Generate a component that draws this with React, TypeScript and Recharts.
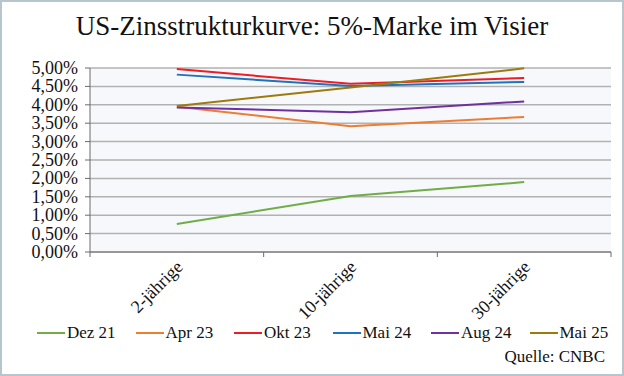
import { LineChart, Line, XAxis, YAxis, CartesianGrid } from "recharts"

const categories = ["2-jährige", "10-jährige", "30-jährige"]
const dez21 = [0.76, 1.52, 1.9]
const apr23 = [3.95, 3.42, 3.67]
const okt23 = [4.97, 4.57, 4.73]
const mai24 = [4.82, 4.51, 4.62]
const aug24 = [3.93, 3.8, 4.09]
const mai25 = [3.97, 4.47, 4.99]
const yTicks = [0, 0.5, 1, 1.5, 2, 2.5, 3, 3.5, 4, 4.5, 5]

const series = [
  { key: "dez21", name: "Dez 21", values: dez21, color: "#70ad47" },
  { key: "apr23", name: "Apr 23", values: apr23, color: "#ed7d31" },
  { key: "okt23", name: "Okt 23", values: okt23, color: "#ee1c25" },
  { key: "mai24", name: "Mai 24", values: mai24, color: "#1f72bd" },
  { key: "aug24", name: "Aug 24", values: aug24, color: "#7030a0" },
  { key: "mai25", name: "Mai 25", values: mai25, color: "#9c7b0c" },
]

const data = categories.map((c, i) => {
  const row: Record<string, string | number> = { cat: c }
  series.forEach((s) => (row[s.key] = s.values[i]))
  return row
})

const FONT = "Liberation Serif"
const W = 624
const H = 376
const LEFT = 90
const RIGHT = 13
const band = (W - LEFT - RIGHT) / categories.length

const fmt = (v: number) => v.toFixed(2).replace(".", ",") + "%"

function XTick(props: any) {
  const { x, y, payload, index } = props
  return (
    <g>
      <line x1={x - band / 2} x2={x - band / 2} y1={y - 8} y2={y - 3} stroke="#6b6b6b" />
      {index === categories.length - 1 && (
        <line x1={x + band / 2} x2={x + band / 2} y1={y - 8} y2={y - 3} stroke="#6b6b6b" />
      )}
      <text
        x={x + 7}
        y={y + 8}
        textAnchor="end"
        transform={`rotate(-45 ${x + 7} ${y + 8})`}
        fontSize={18}
        fontFamily={FONT}
        fill="#111"
      >
        {payload.value}
      </text>
    </g>
  )
}

function YTick(props: any) {
  const { x, y, payload } = props
  return (
    <text x={x - 7} y={y + 6} textAnchor="end" fontSize={18} fontFamily={FONT} fill="#111">
      {fmt(payload.value)}
    </text>
  )
}

export default function App() {
  return (
    <div
      style={{
        position: "absolute",
        left: 0,
        top: 0,
        width: W,
        height: H,
        boxSizing: "border-box",
        border: "2px solid #b9c5cd",
        background: "#fff",
        overflow: "hidden",
      }}
    >
      <div
        style={{
          position: "absolute",
          left: 0,
          right: 0,
          top: 9,
          textAlign: "center",
          fontFamily: FONT,
          fontSize: 27,
          color: "#111",
        }}
      >
        US-Zinsstrukturkurve: 5%-Marke im Visier
      </div>
      <div style={{ position: "absolute", left: -2, top: -2 }}>
        <LineChart width={W} height={H} data={data} margin={{ top: 68, right: RIGHT, bottom: 0, left: 0 }}>
          <CartesianGrid vertical={false} stroke="#b2b2b2" strokeWidth={1.5} fill="#f6f8fb" />
          <XAxis
            dataKey="cat"
            scale="band"
            axisLine={{ stroke: "#6b6b6b" }}
            tickLine={false}
            tick={<XTick />}
            interval={0}
            height={124}
          />
          <YAxis
            domain={[0, 5]}
            ticks={yTicks}
            width={LEFT}
            axisLine={{ stroke: "#6b6b6b" }}
            tickLine={{ stroke: "#6b6b6b" }}
            tickSize={5}
            tickMargin={0}
            tick={<YTick />}
            interval={0}
          />
          {series.map((s) => (
            <Line
              key={s.key}
              dataKey={s.key}
              name={s.name}
              stroke={s.color}
              strokeWidth={2}
              dot={false}
              activeDot={false}
              isAnimationActive={false}
            />
          ))}
        </LineChart>
      </div>
      <div
        style={{
          position: "absolute",
          left: 35,
          top: 321,
          display: "flex",
          fontFamily: FONT,
          fontSize: 17,
          color: "#111",
        }}
      >
        {series.map((s) => (
          <div key={s.key} style={{ display: "flex", alignItems: "center", width: 98.5 }}>
            <span style={{ display: "inline-block", width: 28, height: 2, background: s.color, marginRight: 2 }} />
            <span>{s.name}</span>
          </div>
        ))}
      </div>
      <div
        style={{
          position: "absolute",
          right: 17,
          top: 345,
          fontFamily: FONT,
          fontSize: 17,
          color: "#111",
        }}
      >
        Quelle: CNBC
      </div>
    </div>
  )
}
